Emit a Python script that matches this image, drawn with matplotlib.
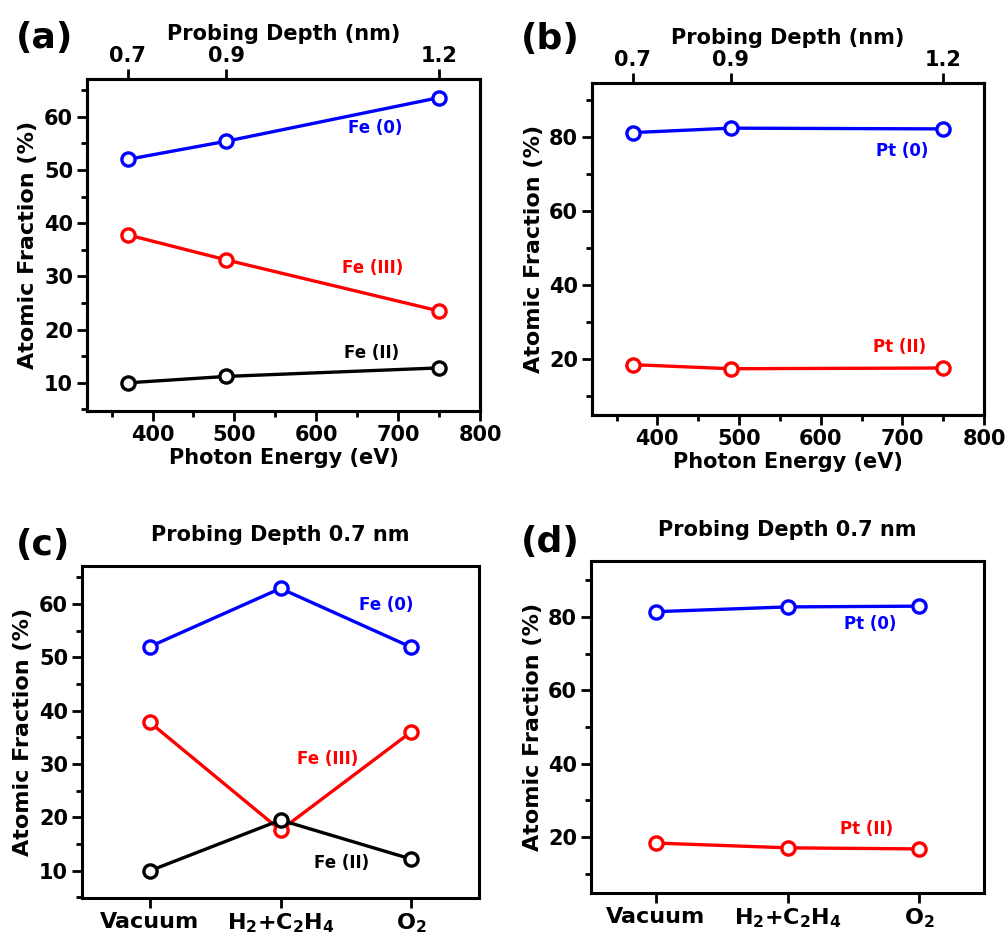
import numpy as np
import matplotlib
matplotlib.use('Agg')
import matplotlib.pyplot as plt

# plot configuration
plt.rcParams['font.family'] = 'DejaVu Sans'
plt.rcParams['font.weight'] = 'bold'
plt.rcParams['axes.labelweight'] = 'bold'
plt.rcParams['mathtext.default'] = 'bf'

# data
photon_energy = [370, 490, 750]          # eV
probing_depth = ['0.7', '0.9', '1.2']    # nm
fe0_energy = [52.0, 55.4, 63.6]
fe3_energy = [37.8, 33.1, 23.5]
fe2_energy = [10.0, 11.2, 12.8]
pt0_energy = [81.2, 82.4, 82.2]
pt2_energy = [18.5, 17.4, 17.6]

conditions = ['Vacuum', 'H$_2$+C$_2$H$_4$', 'O$_2$']
fe0_cond = [52.0, 62.9, 51.9]
fe3_cond = [37.8, 17.6, 36.0]
fe2_cond = [10.0, 19.5, 12.2]
pt0_cond = [81.4, 82.7, 82.9]
pt2_cond = [18.4, 17.1, 16.8]

W, H = 1008, 936
fig = plt.figure(figsize=(W/100, H/100), dpi=100)

def rect(l, t, r, b):
    return [l/W, 1 - b/H, (r - l)/W, (b - t)/H]

lw = 2.4
mk = dict(marker='o', markersize=9.5, markerfacecolor='white', markeredgewidth=2.4, lw=lw)

def style(ax, ymajor, yminor):
    for s in ax.spines.values():
        s.set_linewidth(2.2)
    ax.set_yticks(ymajor)
    ax.set_yticks(yminor, minor=True)
    ax.tick_params(axis='both', which='major', direction='out', length=7, width=2,
                   labelsize=15, pad=3)
    ax.tick_params(axis='both', which='minor', direction='out', length=4, width=2)
    ax.set_ylabel('Atomic Fraction (%)', fontsize=16, labelpad=4)

def energy_axes(ax):
    ax.set_xlim(320, 800)
    ax.set_xticks([400, 500, 600, 700, 800])
    ax.set_xticks([350, 450, 550, 650, 750], minor=True)
    ax.set_xlabel('Photon Energy (eV)', fontsize=15, labelpad=2)
    top = ax.twiny()
    top.set_xlim(ax.get_xlim())
    top.set_xticks(photon_energy)
    top.set_xticklabels(probing_depth)
    top.tick_params(axis='x', direction='out', length=7, width=2, labelsize=15, pad=2)
    top.set_xlabel('Probing Depth (nm)', fontsize=15, labelpad=5)
    for s in top.spines.values():
        s.set_linewidth(2.2)

def cond_axes(ax, xlim):
    ax.set_xlim(*xlim)
    ax.set_xticks([0, 1, 2])
    ax.set_xticklabels(conditions)
    ax.tick_params(axis='x', labelsize=16)
    ax.set_title('Probing Depth 0.7 nm', fontsize=15, fontweight='bold', pad=18)

# (a)
ax = fig.add_axes(rect(87, 79, 480, 411))
ax.plot(photon_energy, fe0_energy, color='#0000ff', **mk)
ax.plot(photon_energy, fe3_energy, color='#ff0000', **mk)
ax.plot(photon_energy, fe2_energy, color='black', **mk)
ax.set_ylim(4.7, 67.1)
style(ax, [10, 20, 30, 40, 50, 60], [5, 15, 25, 35, 45, 55, 65])
energy_axes(ax)
ax.text(672, 57.9, 'Fe (0)', color='#0000ff', fontsize=12, ha='center', va='center')
ax.text(669, 31.6, 'Fe (III)', color='#ff0000', fontsize=12, ha='center', va='center')
ax.text(668, 15.6, 'Fe (II)', color='black', fontsize=12, ha='center', va='center')

# (b)
ax = fig.add_axes(rect(592, 83, 984, 415))
ax.plot(photon_energy, pt0_energy, color='#0000ff', **mk)
ax.plot(photon_energy, pt2_energy, color='#ff0000', **mk)
ax.set_ylim(4.9, 94.6)
style(ax, [20, 40, 60, 80], [10, 30, 50, 70, 90])
energy_axes(ax)
ax.text(700, 76.2, 'Pt (0)', color='#0000ff', fontsize=12, ha='center', va='center')
ax.text(696, 23.3, 'Pt (II)', color='#ff0000', fontsize=12, ha='center', va='center')

# (c)
x = np.arange(len(conditions))
ax = fig.add_axes(rect(82, 566, 479, 898))
ax.plot(x, fe0_cond, color='#0000ff', **mk)
ax.plot(x, fe3_cond, color='#ff0000', **mk)
ax.plot(x, fe2_cond, color='black', **mk)
ax.set_ylim(4.9, 67.1)
style(ax, [10, 20, 30, 40, 50, 60], [5, 15, 25, 35, 45, 55, 65])
cond_axes(ax, (-0.52, 2.52))
ax.text(1.81, 59.8, 'Fe (0)', color='#0000ff', fontsize=12, ha='center', va='center')
ax.text(1.36, 30.9, 'Fe (III)', color='#ff0000', fontsize=12, ha='center', va='center')
ax.text(1.47, 11.5, 'Fe (II)', color='black', fontsize=12, ha='center', va='center')

# (d)
ax = fig.add_axes(rect(591, 561, 984, 893))
ax.plot(x, pt0_cond, color='#0000ff', **mk)
ax.plot(x, pt2_cond, color='#ff0000', **mk)
ax.set_ylim(4.8, 95.2)
style(ax, [20, 40, 60, 80], [10, 30, 50, 70, 90])
cond_axes(ax, (-0.49, 2.49))
ax.text(1.63, 78.0, 'Pt (0)', color='#0000ff', fontsize=12, ha='center', va='center')
ax.text(1.60, 22.2, 'Pt (II)', color='#ff0000', fontsize=12, ha='center', va='center')

# panel letters
for lab, (px, py) in zip(['(a)', '(b)', '(c)', '(d)'],
                         [(45, 38), (550, 39), (43, 545), (550, 542)]):
    fig.text(px/W, 1 - py/H, lab, fontsize=26, fontweight='bold', ha='center', va='center')

fig.savefig('out.png', dpi=100)
